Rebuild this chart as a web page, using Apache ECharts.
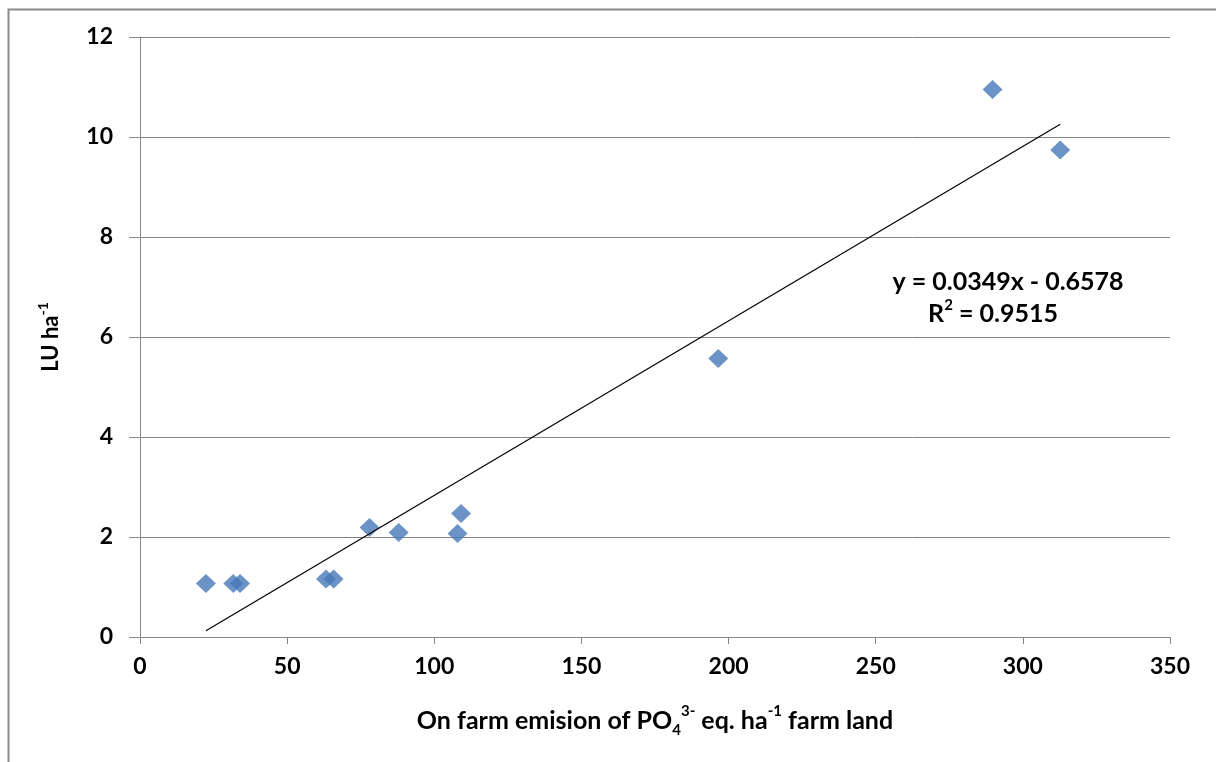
<!DOCTYPE html>
<html>
<head>
<meta charset="utf-8">
<script src="https://cdn.jsdelivr.net/npm/echarts@6/dist/echarts.min.js"></script>
<style>
  html, body { margin: 0; padding: 0; background: #fff; }
  #chart { width: 1216px; height: 762px; }
</style>
</head>
<body>
<div id="chart"></div>
<script>
// Phosphate emission per ha of farm land vs. livestock units per ha
const emission = [22.4, 31.7, 34.0, 63.2, 65.8, 78.0, 87.9, 107.9, 109.1, 196.5, 289.7, 312.7];
const livestock = [1.07, 1.07, 1.07, 1.16, 1.16, 2.19, 2.09, 2.07, 2.47, 5.57, 10.95, 9.74];

// Linear trend as reported on the chart
const slope = 0.0349;
const intercept = -0.6578;
const rSquared = 0.9515;

const xTicks = [0, 50, 100, 150, 200, 250, 300, 350];
const yTicks = [0, 2, 4, 6, 8, 10, 12];

const FONT = 'Lato';
const points = emission.map((x, i) => [x, livestock[i]]);
const xMin = Math.min(...emission);
const xMax = Math.max(...emission);
const trend = [xMin, xMax].map(x => [x, slope * x + intercept]);

const chart = echarts.init(document.getElementById('chart'), null, { renderer: 'canvas' });

chart.setOption({
  animation: false,
  backgroundColor: '#ffffff',
  textStyle: { fontFamily: FONT },
  grid: { left: 140, right: 46, top: 37, bottom: 125, containLabel: false },
  xAxis: {
    type: 'value',
    min: xTicks[0],
    max: xTicks[xTicks.length - 1],
    interval: 50,
    axisLine: { show: true, lineStyle: { color: '#868686', width: 1 } },
    axisTick: { show: true, length: 7, lineStyle: { color: '#868686' } },
    splitLine: { show: false },
    axisLabel: { color: '#000', fontSize: 23, fontWeight: 'bold', fontFamily: FONT, margin: 18 },
    name: '{t|On farm emision of PO}{sub|4}{sup|3-}{t| eq. ha}{sup|-1}{t| farm land}',
    nameLocation: 'middle',
    nameGap: 67,
    nameTextStyle: {
      rich: {
        t: { fontSize: 25, fontWeight: 'bold', color: '#000', fontFamily: FONT, lineHeight: 34, verticalAlign: 'middle' },
        sup: { fontSize: 15, fontWeight: 'bold', color: '#000', fontFamily: FONT, lineHeight: 34, verticalAlign: 'top' },
        sub: { fontSize: 15, fontWeight: 'bold', color: '#000', fontFamily: FONT, lineHeight: 34, verticalAlign: 'bottom' }
      }
    }
  },
  yAxis: {
    type: 'value',
    min: yTicks[0],
    max: yTicks[yTicks.length - 1],
    interval: 2,
    axisLine: { show: true, lineStyle: { color: '#868686', width: 1 } },
    axisTick: { show: true, length: 11, lineStyle: { color: '#868686' } },
    splitLine: { show: true, lineStyle: { color: '#868686', width: 1 } },
    axisLabel: { color: '#000', fontSize: 23, fontWeight: 'bold', fontFamily: FONT, margin: 27 },
    name: '{t|LU ha}{sup|-1}',
    nameLocation: 'middle',
    nameGap: 74,
    nameRotate: 90,
    nameTextStyle: {
      rich: {
        t: { fontSize: 22, fontWeight: 'bold', color: '#000', fontFamily: FONT, lineHeight: 30, verticalAlign: 'middle' },
        sup: { fontSize: 14, fontWeight: 'bold', color: '#000', fontFamily: FONT, lineHeight: 30, verticalAlign: 'top' }
      }
    }
  },
  series: [
    {
      type: 'scatter',
      data: points,
      symbol: 'diamond',
      symbolSize: [20, 19],
      itemStyle: { color: '#4678b8' },
      z: 3
    },
    {
      type: 'line',
      data: trend,
      symbol: 'none',
      lineStyle: { color: '#000', width: 1.2 },
      z: 4,
      silent: true
    }
  ],
  graphic: [
    {
      type: 'rect',
      left: 6, top: 7,
      shape: { width: 1300, height: 800 },
      style: { fill: 'none', stroke: '#8a8a8a', lineWidth: 2 },
      silent: true
    },
    {
      type: 'text',
      x: 1008, y: 282,
      style: {
        text: 'y = ' + slope.toFixed(4) + 'x - ' + Math.abs(intercept).toFixed(4),
        align: 'center', verticalAlign: 'middle',
        fontSize: 25, fontWeight: 'bold', fontFamily: FONT, fill: '#000'
      }
    },
    {
      type: 'text',
      x: 993, y: 314,
      style: {
        text: '{t|R}{sup|2}{t| = ' + rSquared.toFixed(4) + '}',
        align: 'center', verticalAlign: 'middle',
        rich: {
          t: { fontSize: 25, fontWeight: 'bold', fontFamily: FONT, fill: '#000', lineHeight: 32, verticalAlign: 'middle' },
          sup: { fontSize: 15, fontWeight: 'bold', fontFamily: FONT, fill: '#000', lineHeight: 32, verticalAlign: 'top' }
        }
      }
    }
  ]
});
</script>
</body>
</html>
